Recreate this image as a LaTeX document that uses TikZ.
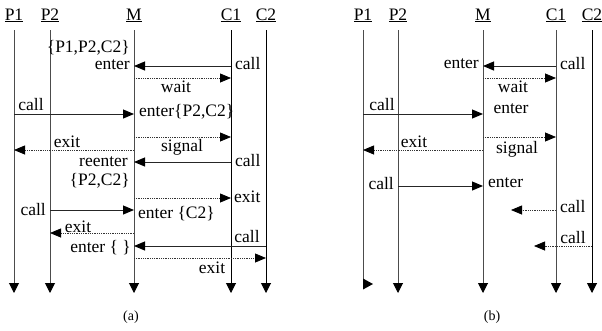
\documentclass[tikz,border=0pt]{standalone}
\usepackage{fontspec}
\setmainfont{Liberation Serif}
\usetikzlibrary{arrows.meta}
\begin{document}
\begin{tikzpicture}[x=1pt,y=-1pt,
  every node/.style={font=\fontsize{17.5}{19}\selectfont, inner sep=0pt},
  life/.style={draw=black!70, line width=1pt, -{Triangle[length=10pt,width=10pt,color=black]}},
  lifeb/.style={draw=black, line width=1pt, -{Triangle[length=10pt,width=10pt,color=black]}},
  msg/.style={draw=black!85, line width=1pt, -{Triangle[length=11pt,width=9pt,color=black]}},
  dmsg/.style={draw=black!80, line width=0.8pt, densely dotted, -{Triangle[length=11pt,width=9pt,color=black]}},
  head/.style={anchor=base},
  lbl/.style={anchor=center},
  lblr/.style={anchor=east},
  lbll/.style={anchor=west}]
\useasboundingbox (0,0) rectangle (602,330);
% ---------- (a) ----------
\foreach \n/\x in {aP1/14, aP2/50, aM/134, aC1/231, aC2/266}{
  \coordinate (\n t) at (\x,30);
  \coordinate (\n b) at (\x,293);
}
\node[head] (haP1) at (14,20) {\underline{P1}};
\node[head] (haP2) at (50,20) {\underline{P2}};
\node[head] (haM) at (134,20) {\underline{M}};
\node[head] (haC1) at (231,20) {\underline{C1}};
\node[head] (haC2) at (266,20) {\underline{C2}};
\draw[life] (aP1t) -- (aP1b);
\draw[life] (aP2t) -- (aP2b);
\draw[life] (aMt) -- (aMb);
\draw[lifeb] (aC1t) -- (aC1b);
\draw[lifeb] (aC2t) -- (aC2b);

\draw[msg] (aC1t |- 0,66) -- (aMt |- 0,66);
\draw[dmsg] (aMt |- 0,78) -- (aC1t |- 0,78);
\draw[msg] (aP1t |- 0,114) -- (aMt |- 0,114);
\draw[dmsg] (aMt |- 0,137) -- (aC1t |- 0,137);
\draw[dmsg] (aMt |- 0,150) -- (aP1t |- 0,150);
\draw[msg] (aC1t |- 0,162) -- (aMt |- 0,162);
\draw[dmsg] (aMt |- 0,198) -- (aC1t |- 0,198);
\draw[msg] (aP2t |- 0,210) -- (aMt |- 0,210);
\draw[dmsg] (aMt |- 0,233) -- (aP2t |- 0,233);
\draw[msg] (aC2t |- 0,246) -- (aMt |- 0,246);
\draw[dmsg] (aMt |- 0,258) -- (aC2t |- 0,258);

\node[lblr] (t1) at (130,48) {\{P1,P2,C2\}};
\node[lblr] (t2) at (130,65) {enter};
\node[lbll] (t3) at (235,64) {call};
\node[lbl] (t4) at (176,87) {wait};
\node[lbl] (t5) at (31,105) {call};
\node[lbll] (t6) at (139,112) {enter\{P2,C2\}};
\node[lbl] (t7) at (67,142) {exit};
\node[lbl] (t8) at (182,147) {signal};
\node[lblr] (t9) at (128,162) {reenter};
\node[lbll] (t10) at (235,161) {call};
\node[lblr] (t11) at (130,181) {\{P2,C2\}};
\node[lbll] (t12) at (234,197) {exit};
\node[lblr] (t13) at (46,210) {call};
\node[lbll] (t14) at (138,214) {enter \{C2\}};
\node[lbl] (t15) at (78,227) {exit};
\node[lbl] (t16) at (247,237) {call};
\node[lblr] (t17) at (131,248) {enter \{ \}};
\node[lbl] (t18) at (212,268) {exit};
\node[lbl, font=\fontsize{14}{16}\selectfont] (capa) at (131,317) {(a)};

% ---------- (b) ----------
\foreach \n/\x in {bP1/363, bP2/398, bM/483, bC1/556, bC2/592}{
  \coordinate (\n t) at (\x,30);
  \coordinate (\n b) at (\x,293);
}
\coordinate (bP1e) at (363,284);
\node[head] (hbP1) at (363,20) {\underline{P1}};
\node[head] (hbP2) at (398,20) {\underline{P2}};
\node[head] (hbM) at (483,20) {\underline{M}};
\node[head] (hbC1) at (556,20) {\underline{C1}};
\node[head] (hbC2) at (592,20) {\underline{C2}};
\draw[draw=black!70, line width=1pt] (bP1t) -- (bP1e);
\fill[black] (363,278.5) -- (373,284) -- (363,289.5) -- cycle;
\draw[life] (bP2t) -- (bP2b);
\draw[life] (bMt) -- (bMb);
\draw[life] (bC1t) -- (bC1b);
\draw[lifeb] (bC2t) -- (bC2b);

\coordinate (bx1) at (511,210);
\coordinate (bx2) at (534,246);
\draw[msg] (bC1t |- 0,66) -- (bMt |- 0,66);
\draw[dmsg] (bMt |- 0,78) -- (bC1t |- 0,78);
\draw[msg] (bP1t |- 0,114) -- (bMt |- 0,114);
\draw[dmsg] (bMt |- 0,137) -- (bC1t |- 0,137);
\draw[dmsg] (bMt |- 0,150) -- (bP1t |- 0,150);
\draw[msg] (bP2t |- 0,186) -- (bMt |- 0,186);
\draw[dmsg] (bC1t |- 0,210) -- (bx1);
\draw[dmsg] (bC2t |- 0,246) -- (bx2);

\node[lblr] (u1) at (479,64) {enter};
\node[lbll] (u2) at (560,64) {call};
\node[lbl] (u3) at (513,87) {wait};
\node[lbl] (u4) at (382,105) {call};
\node[lbl] (u5) at (511,109) {enter};
\node[lbl] (u6) at (414,142) {exit};
\node[lbl] (u7) at (517,149) {signal};
\node[lblr] (u8) at (394,184) {call};
\node[lbll] (u9) at (488,183) {enter};
\node[lbll] (u10) at (560,207) {call};
\node[lbl] (u11) at (573,238) {call};
\node[lbl, font=\fontsize{14}{16}\selectfont] (capb) at (492,317) {(b)};
\end{tikzpicture}
\end{document}
